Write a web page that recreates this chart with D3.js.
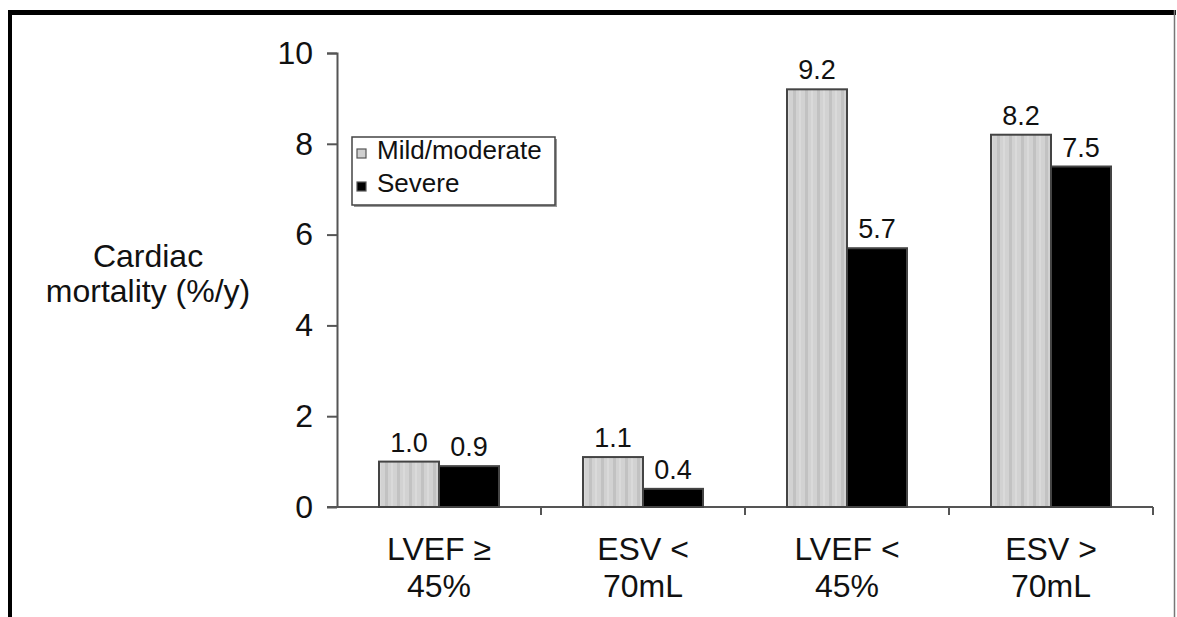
<!DOCTYPE html>
<html>
<head>
<meta charset="utf-8">
<script src="https://cdn.jsdelivr.net/npm/d3@7"></script>
<style>
  body { margin: 0; background: #fff; }
  text { font-family: "Liberation Sans", Arial, sans-serif; fill: #111; }
</style>
</head>
<body>
<div id="chart"></div>
<script>
var categories = [["LVEF \u2265", "45%"], ["ESV <", "70mL"], ["LVEF <", "45%"], ["ESV >", "70mL"]];
var series = ["Mild/moderate", "Severe"];
var mildValues = [1.0, 1.1, 9.2, 8.2];
var severeValues = [0.9, 0.4, 5.7, 7.5];
var yTicks = [0, 2, 4, 6, 8, 10];

var W = 1177, H = 617;
var margin = {top: 53, left: 337, right: 24, bottom: 110};
var width = 1153 - margin.left,
    height = 507 - margin.top;

var svg = d3.select("#chart").append("svg")
  .attr("width", W).attr("height", H);

// frame
svg.append("line").attr("x1", 8).attr("x2", 1176).attr("y1", 12.5).attr("y2", 12.5)
  .attr("stroke", "#000").attr("stroke-width", 5);
svg.append("line").attr("x1", 10).attr("x2", 10).attr("y1", 10).attr("y2", H)
  .attr("stroke", "#000").attr("stroke-width", 4);
svg.append("line").attr("x1", 1174.5).attr("x2", 1174.5).attr("y1", 10).attr("y2", H)
  .attr("stroke", "#777").attr("stroke-width", 1.5);

// stripe pattern for the gray bars
var defs = svg.append("defs");
var pat = defs.append("pattern").attr("id", "stripes")
  .attr("patternUnits", "userSpaceOnUse").attr("width", 12).attr("height", 4);
pat.append("rect").attr("width", 12).attr("height", 4).attr("fill", "#d2d2d2");
pat.append("rect").attr("x", 0).attr("width", 3).attr("height", 4).attr("fill", "#c2c2c2");
pat.append("rect").attr("x", 6).attr("width", 2).attr("height", 4).attr("fill", "#dadada");

var g = svg.append("g").attr("transform", "translate(" + margin.left + "," + margin.top + ")");

var x0 = d3.scaleBand().domain(d3.range(categories.length)).range([0, width]);
var x1 = d3.scaleBand().domain(series).range([42, 162]);
var y = d3.scaleLinear().domain([0, 10]).range([height, 0]);

// y axis
var yAxis = g.append("g")
  .call(d3.axisLeft(y).tickValues(yTicks).tickSize(10).tickPadding(14).tickFormat(d3.format("d")));
yAxis.select(".domain").attr("stroke", "#555").attr("stroke-width", 2).attr("d", "M0.5," + (height + 1) + "V0.5H-10");
yAxis.selectAll(".tick line").attr("stroke", "#555").attr("stroke-width", 2);
yAxis.selectAll(".tick text").style("font-size", "32px").attr("fill", "#111");

// x axis line + tick marks at group boundaries
g.append("line").attr("x1", -10).attr("x2", width).attr("y1", height).attr("y2", height)
  .attr("stroke", "#555").attr("stroke-width", 2);
var bounds = d3.range(1, categories.length + 1).map(function(i) { return i * x0.step(); });
g.selectAll(".xtick").data(bounds).enter().append("line")
  .attr("x1", function(d) { return d; }).attr("x2", function(d) { return d; })
  .attr("y1", height).attr("y2", height + 8)
  .attr("stroke", "#555").attr("stroke-width", 2);

// bars
var rows = categories.map(function(c, i) {
  return [{s: series[0], v: mildValues[i]}, {s: series[1], v: severeValues[i]}];
});
var grp = g.selectAll(".grp").data(rows).enter().append("g")
  .attr("transform", function(d, i) { return "translate(" + x0(i) + ",0)"; });

grp.selectAll("rect").data(function(d) { return d; }).enter().append("rect")
  .attr("x", function(d) { return x1(d.s); })
  .attr("y", function(d) { return y(d.v); })
  .attr("width", x1.bandwidth())
  .attr("height", function(d) { return height - y(d.v); })
  .attr("fill", function(d) { return d.s === series[0] ? "url(#stripes)" : "#000"; })
  .attr("stroke", "#444").attr("stroke-width", 2);

grp.selectAll(".val").data(function(d) { return d; }).enter().append("text")
  .attr("x", function(d) { return x1(d.s) + x1.bandwidth() / 2; })
  .attr("y", function(d) { return y(d.v) - 10; })
  .attr("text-anchor", "middle")
  .style("font-size", "27px")
  .text(function(d) { return d3.format(".1f")(d.v); });

// category labels
var cl = g.selectAll(".cat").data(categories).enter().append("text")
  .attr("text-anchor", "middle")
  .attr("transform", function(d, i) { return "translate(" + (x0(i) + x0.bandwidth() / 2) + "," + (height + 53) + ")"; })
  .style("font-size", "32px");
cl.append("tspan").attr("x", 0).attr("dy", 0).text(function(d) { return d[0]; });
cl.append("tspan").attr("x", 0).attr("dy", 37).text(function(d) { return d[1]; });

// y title
var yt = svg.append("text").attr("text-anchor", "middle").style("font-size", "32px")
  .attr("transform", "translate(148,267)");
yt.append("tspan").attr("x", 0).attr("dy", 0).text("Cardiac");
yt.append("tspan").attr("x", 0).attr("dy", 35).text("mortality (%/y)");

// legend
var lg = svg.append("g").attr("transform", "translate(352,137)");
lg.append("rect").attr("x", 2).attr("y", 2).attr("width", 203).attr("height", 68).attr("fill", "#999");
lg.append("rect").attr("width", 203).attr("height", 68).attr("fill", "#fff").attr("stroke", "#444").attr("stroke-width", 1.5);
var li = lg.selectAll(".li").data(series).enter().append("g")
  .attr("transform", function(d, i) { return "translate(0," + (12 + i * 33) + ")"; });
li.append("rect").attr("x", 5).attr("y", 0).attr("width", 9).attr("height", 9)
  .attr("fill", function(d, i) { return i === 0 ? "#cfcfcf" : "#000"; })
  .attr("stroke", "#555").attr("stroke-width", 1.2);
li.append("text").attr("x", 25).attr("y", 10).style("font-size", "26px")
  .text(function(d) { return d; });
</script>
</body>
</html>
